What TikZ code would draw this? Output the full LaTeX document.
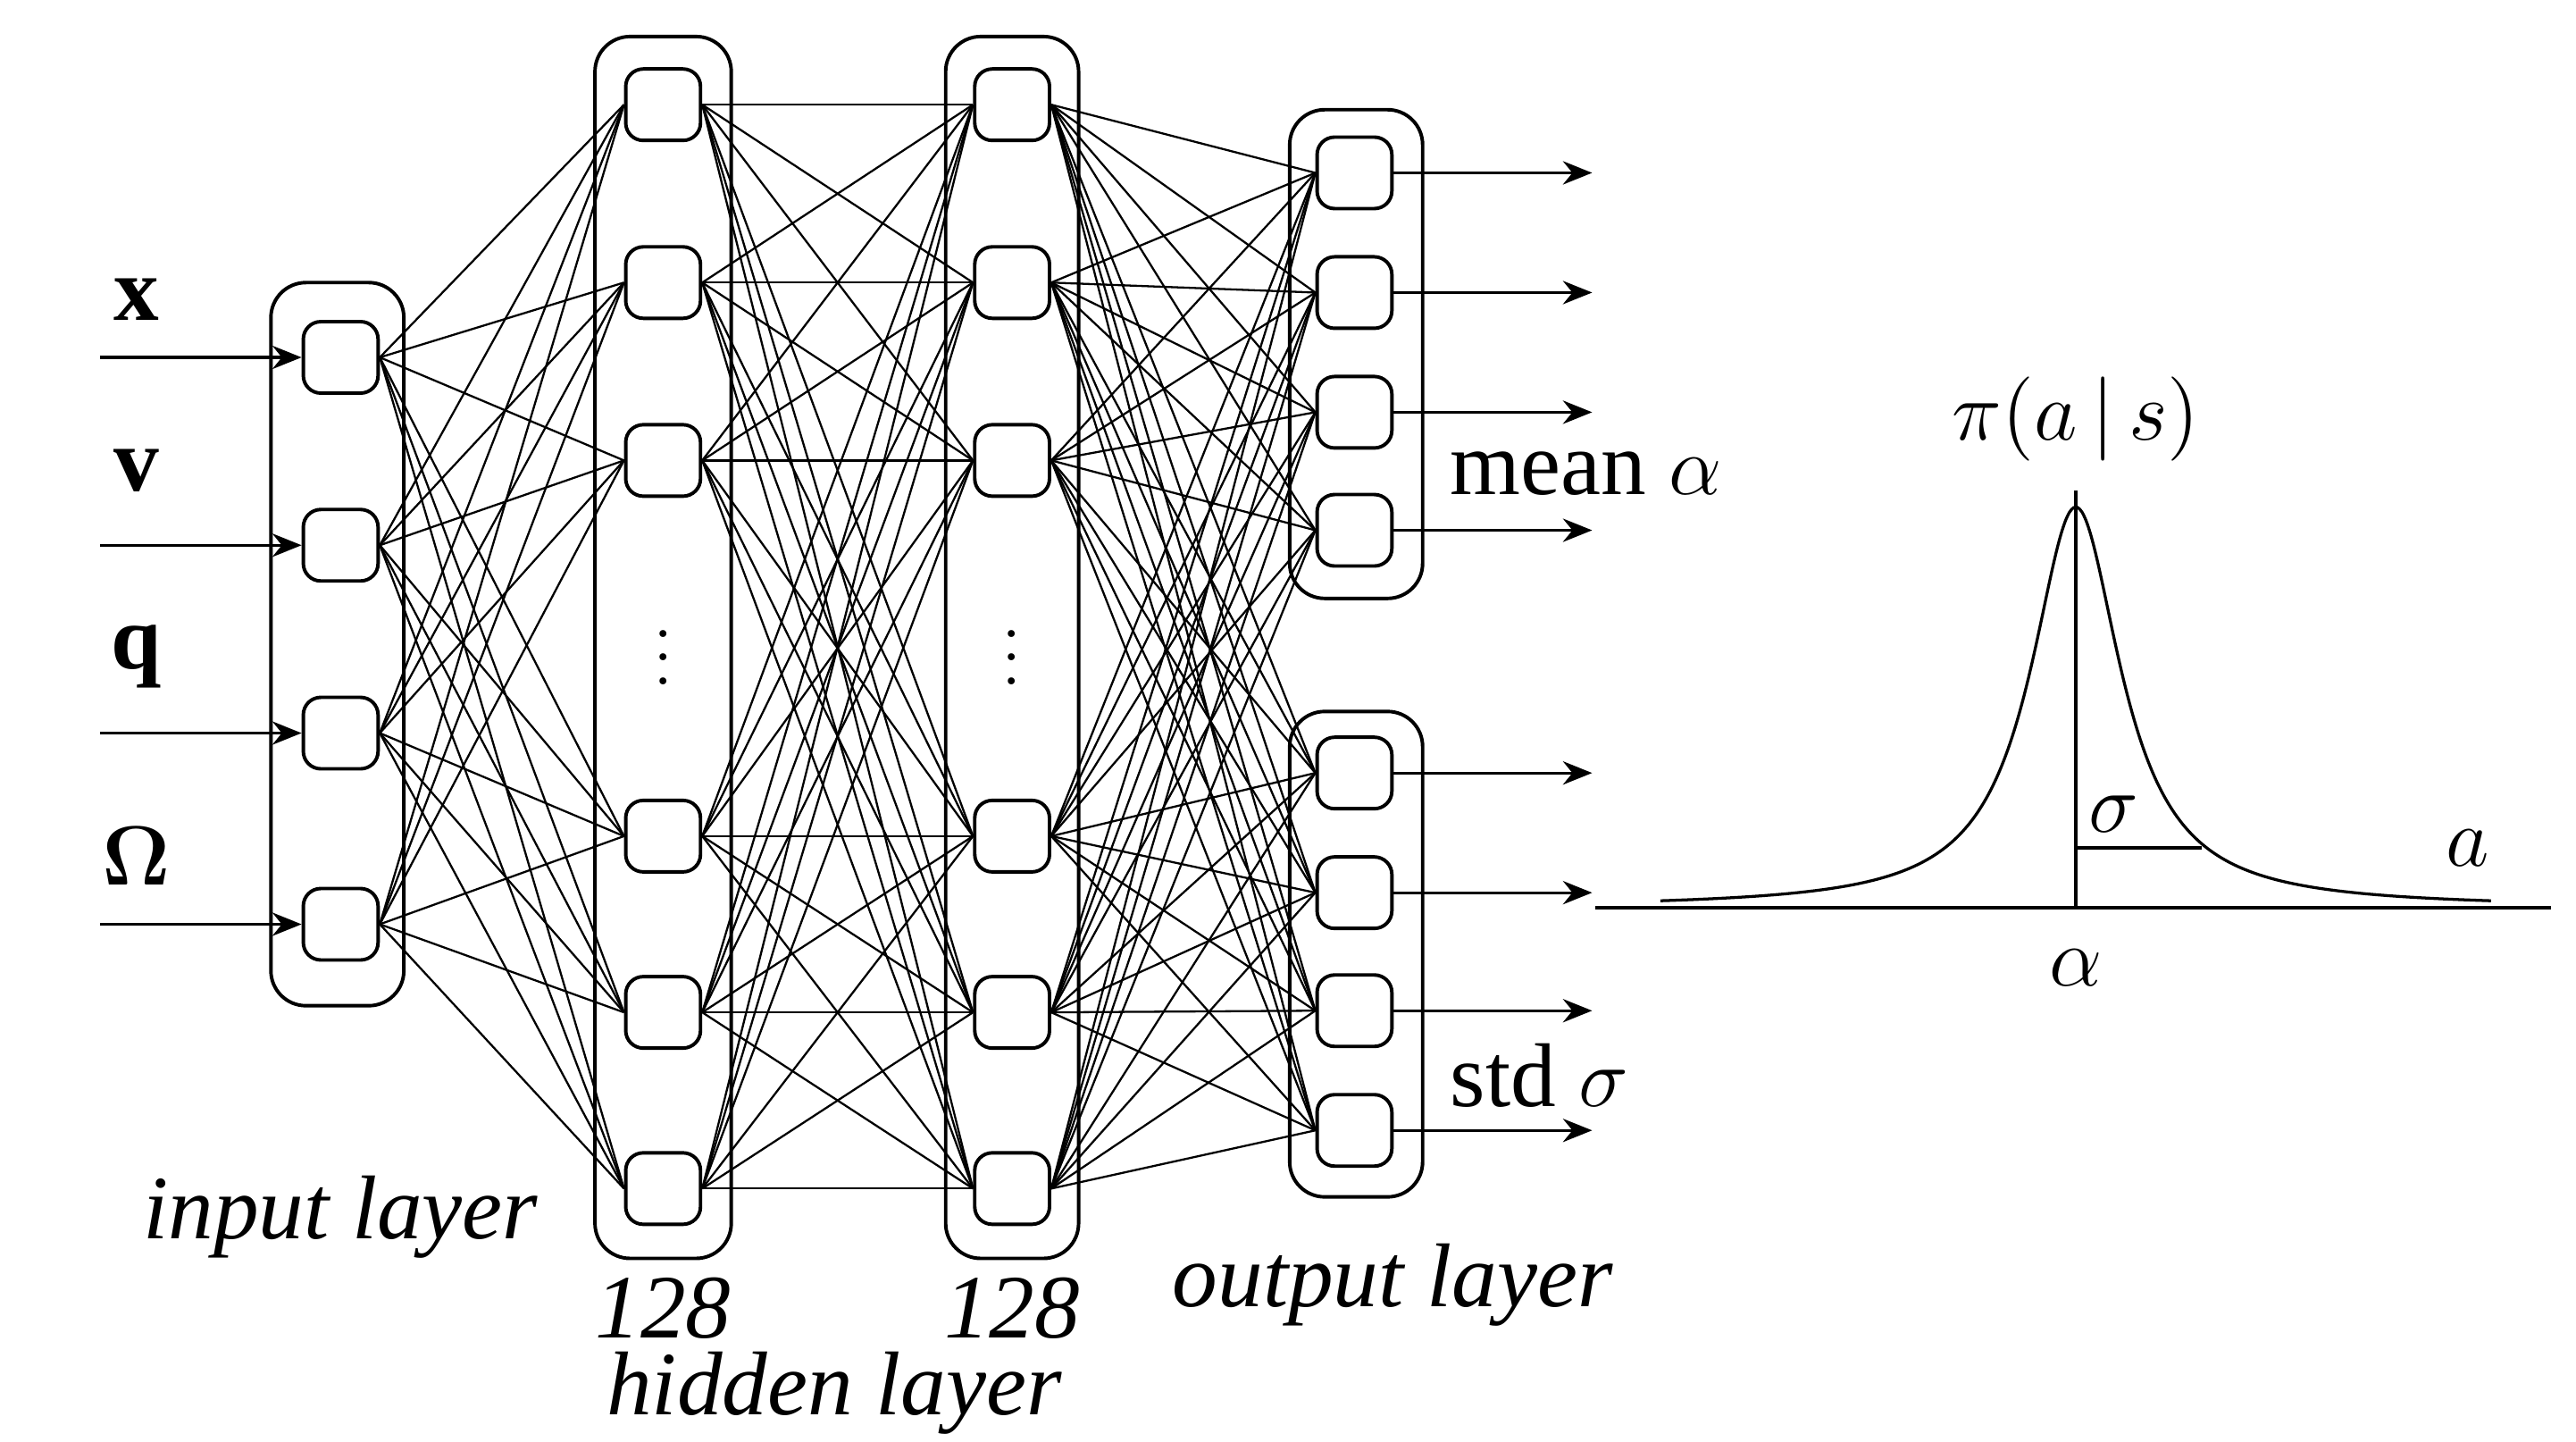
\documentclass[tikz,border=0pt]{standalone}
\usepackage{fontspec}
\setmainfont{Liberation Serif}
\usepackage{amsmath,amssymb}
\usetikzlibrary{arrows.meta}
\tikzstyle{unit}=[rectangle,rounded corners=3pt,draw=black,minimum width=0.45cm,minimum height=0.43cm,fill=white,line width=0.6]
\tikzstyle{layer}=[rectangle,rounded corners=6pt,draw=black,line width=0.6]
\tikzstyle{link}=[-,line width=0.35]
\tikzstyle{outarrow}=[-{Stealth[length=5pt,width=4pt]},line width=0.5]
\tikzstyle{empty}=[inner sep=0pt,font=\fontsize{15.5}{17}\selectfont]
\tikzstyle{none}=[inner sep=0pt]
\begin{document}
\begin{tikzpicture}
	\useasboundingbox (0,0) rectangle (15.5,-8.67);
	% layer boxes
	\node [style=layer,minimum width=0.8cm,minimum height=4.35cm] (L0) at (2.03,-3.875) {};
	\node [style=layer,minimum width=0.82cm,minimum height=7.35cm] (L1) at (3.99,-3.895) {};
	\node [style=layer,minimum width=0.8cm,minimum height=7.35cm] (L2) at (6.09,-3.895) {};
	\node [style=layer,minimum width=0.8cm,minimum height=2.94cm] (L3) at (8.16,-2.13) {};
	\node [style=layer,minimum width=0.8cm,minimum height=2.92cm] (L4) at (8.16,-5.74) {};
	% units
	\foreach \y [count=\i] in {2.15,3.28,4.41,5.56} {
		\node [style=unit] (i\i) at (2.05,-\y) {};
		\coordinate (s\i) at (0.6,-\y);
	}
	\foreach \y [count=\i] in {0.63,1.70,2.77,5.03,6.09,7.15} {
		\node [style=unit] (h\i) at (3.99,-\y) {};
		\node [style=unit] (g\i) at (6.09,-\y) {};
	}
	\foreach \y [count=\i] in {1.04,1.76,2.48,3.19,4.65,5.37,6.08,6.80} {
		\node [style=unit] (o\i) at (8.15,-\y) {};
		\coordinate (e\i) at (9.58,-\y);
	}
	\node [style=none] at (3.99,-3.85) {$\vdots$};
	\node [style=none] at (6.09,-3.85) {$\vdots$};
	% connections
	\foreach \a in {1,...,4}
		\foreach \b in {1,...,6}
			\draw [style=link] (i\a.east) -- (h\b.west);
	\foreach \a in {1,...,6}
		\foreach \b in {1,...,6}
			\draw [style=link] (h\a.east) -- (g\b.west);
	\foreach \a in {1,...,6}
		\foreach \b in {1,...,8}
			\draw [style=link] (g\a.east) -- (o\b.west);
	% inputs and outputs
	\foreach \i in {1,...,4}
		\draw [style=outarrow] (s\i) -- (i\i.west);
	\foreach \i in {1,...,8}
		\draw [style=outarrow] (o\i.east) -- (e\i);
	\node [style=empty] at (0.82,-1.80) {$\mathbf{x}$};
	\node [style=empty] at (0.82,-2.83) {$\mathbf{v}$};
	\node [style=empty] at (0.82,-3.95) {$\mathbf{q}$};
	\node [style=empty] at (0.82,-5.15) {$\boldsymbol{\Omega}$};
	% labels
	\node [style=empty] at (2.05,-7.32) {\textit{input layer}};
	\node [style=empty] at (3.99,-7.87) {\textit{128}};
	\node [style=empty] at (6.09,-7.87) {\textit{128}};
	\node [style=empty] at (5.02,-8.38) {\textit{hidden layer}};
	\node [style=empty] at (8.38,-7.73) {\textit{output layer}};
	\node [style=empty,anchor=west] at (8.72,-2.85) {mean $\alpha$};
	\node [style=empty,anchor=west] at (8.72,-6.47) {std $\sigma$};
	% distribution
	\coordinate (ax0) at (9.60,-5.46);
	\coordinate (ax1) at (15.35,-5.46);
	\coordinate (pk) at (12.49,-5.46);
	\coordinate (top) at (12.49,-2.95);
	\coordinate (sb) at (12.49,-5.10);
	\coordinate (sl) at (13.25,-5.10);
	\draw [line width=0.5] (ax0) -- (ax1);
	\draw [line width=0.5] (pk) -- (top);
	\draw [line width=0.5] (sb) -- (sl);
	\draw [line width=0.5,domain=-2.5:2.5,samples=200,smooth] plot ({12.49+\x},{-5.46+2.41/(1+(\x/0.33)^2)});
	\node [style=empty] at (12.72,-4.90) {$\sigma$};
	\node [style=empty] at (14.85,-5.10) {$a$};
	\node [style=empty] at (12.49,-5.82) {$\alpha$};
	\node [style=empty] at (12.49,-2.52) {$\pi(a\,|\,s)$};
\end{tikzpicture}
\end{document}
